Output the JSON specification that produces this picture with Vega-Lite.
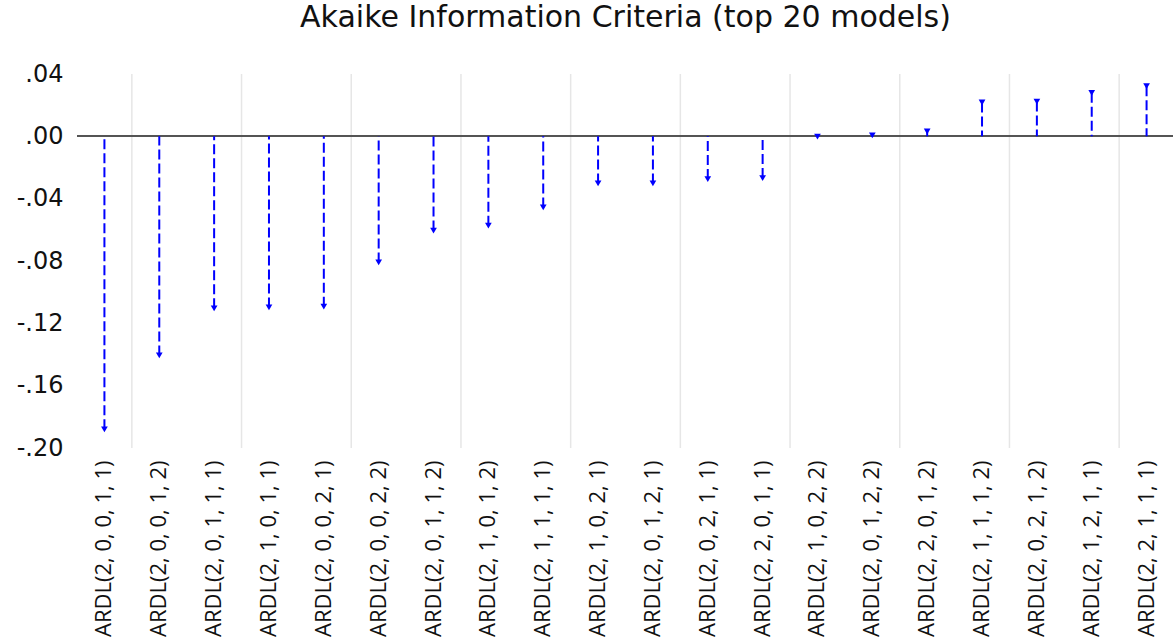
{
  "$schema": "https://vega.github.io/schema/vega-lite/v6.json",
  "width": 1097,
  "height": 374,
  "autosize": {"type": "none"},
  "padding": {"left": 77, "top": 74, "right": 0, "bottom": 195},
  "background": "white",
  "title": {
    "text": "Akaike Information Criteria (top 20 models)",
    "font": "DejaVu Sans",
    "fontSize": 30,
    "fontWeight": "normal",
    "color": "#111111",
    "anchor": "middle",
    "offset": 29
  },
  "data": {
    "values": [
      {"rank": 1, "model": "ARDL(2, 0, 0, 1, 1)", "aic": -0.188},
      {"rank": 2, "model": "ARDL(2, 0, 0, 1, 2)", "aic": -0.1406},
      {"rank": 3, "model": "ARDL(2, 0, 1, 1, 1)", "aic": -0.1104},
      {"rank": 4, "model": "ARDL(2, 1, 0, 1, 1)", "aic": -0.1098},
      {"rank": 5, "model": "ARDL(2, 0, 0, 2, 1)", "aic": -0.1093},
      {"rank": 6, "model": "ARDL(2, 0, 0, 2, 2)", "aic": -0.0809},
      {"rank": 7, "model": "ARDL(2, 0, 1, 1, 2)", "aic": -0.0605},
      {"rank": 8, "model": "ARDL(2, 1, 0, 1, 2)", "aic": -0.0573},
      {"rank": 9, "model": "ARDL(2, 1, 1, 1, 1)", "aic": -0.0456},
      {"rank": 10, "model": "ARDL(2, 1, 0, 2, 1)", "aic": -0.0302},
      {"rank": 11, "model": "ARDL(2, 0, 1, 2, 1)", "aic": -0.0302},
      {"rank": 12, "model": "ARDL(2, 0, 2, 1, 1)", "aic": -0.0274},
      {"rank": 13, "model": "ARDL(2, 2, 0, 1, 1)", "aic": -0.0268},
      {"rank": 14, "model": "ARDL(2, 1, 0, 2, 2)", "aic": -0.0002},
      {"rank": 15, "model": "ARDL(2, 0, 1, 2, 2)", "aic": 0.0006},
      {"rank": 16, "model": "ARDL(2, 2, 0, 1, 2)", "aic": 0.0031},
      {"rank": 17, "model": "ARDL(2, 1, 1, 1, 2)", "aic": 0.0217},
      {"rank": 18, "model": "ARDL(2, 0, 2, 1, 2)", "aic": 0.0223},
      {"rank": 19, "model": "ARDL(2, 1, 2, 1, 1)", "aic": 0.0279},
      {"rank": 20, "model": "ARDL(2, 2, 1, 1, 1)", "aic": 0.0322}
    ]
  },
  "encoding": {
    "x": {
      "field": "model",
      "type": "nominal",
      "sort": null,
      "scale": {"paddingInner": 0, "paddingOuter": 0},
      "axis": {
        "title": null,
        "domain": false,
        "ticks": false,
        "grid": false,
        "labelAngle": -90,
        "labelAlign": "right",
        "labelBaseline": "middle",
        "labelFont": "Open Sans",
        "labelFontSize": 22,
        "labelColor": "#111111",
        "labelPadding": 12,
        "labelOverlap": false
      }
    }
  },
  "layer": [
    {
      "mark": {"type": "rule", "color": "#e6e6e6", "strokeWidth": 1.5},
      "encoding": {
        "x": {"field": "model", "type": "nominal", "sort": null, "bandPosition": 1},
        "strokeOpacity": {"condition": {"test": "datum.rank % 2 == 1", "value": 1}, "value": 0}
      }
    },
    {
      "mark": {"type": "rule", "color": "#555555", "strokeWidth": 1.5},
      "encoding": {
        "x": {"value": 0},
        "x2": {"value": 1097},
        "y": {"datum": 0, "type": "quantitative"}
      }
    },
    {
      "mark": {"type": "rule", "color": "#0000ff", "strokeWidth": 2, "strokeDash": [10, 4]},
      "encoding": {
        "y": {
          "field": "aic",
          "type": "quantitative",
          "scale": {"domain": [-0.2, 0.04], "nice": false, "zero": false},
          "axis": {
            "title": null,
            "domain": false,
            "ticks": false,
            "values": [-0.2, -0.16, -0.12, -0.08, -0.04, 0, 0.04],
            "labelExpr": "replace(replace(format(datum.value, '.2f'), '0.', '.'), '\u2212', '-')",
            "labelFont": "DejaVu Sans",
            "labelFontSize": 24,
            "labelColor": "#111111",
            "labelPadding": 14,
            "gridColor": "#ebebeb",
            "gridWidth": 1.5,
            "gridOpacity": {"condition": {"test": "datum.value <= -0.19 || datum.value >= 0.03 || abs(datum.value) < 0.001", "value": 0}, "value": 1}
          }
        },
        "y2": {"datum": 0}
      }
    },
    {
      "mark": {"type": "point", "shape": "triangle-down", "filled": true, "color": "#0000ff", "size": 45, "opacity": 1},
      "encoding": {
        "y": {"field": "aic", "type": "quantitative"}
      }
    }
  ],
  "config": {
    "view": {"stroke": null}
  }
}
